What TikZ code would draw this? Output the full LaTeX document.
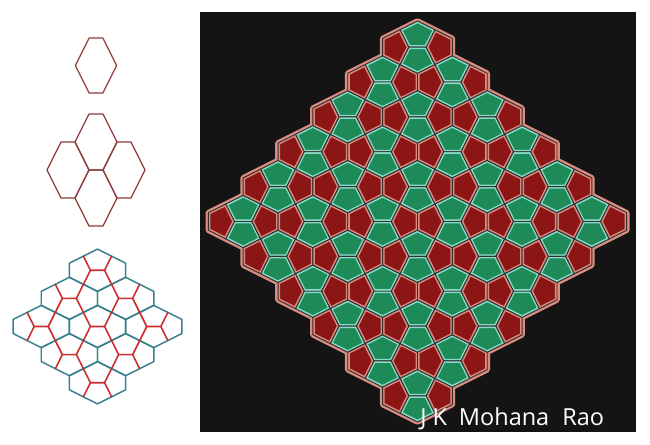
\documentclass[tikz,border=0pt]{standalone}
\usepackage{fontspec}
\setmainfont{Open Sans}
\definecolor{hexline}{HTML}{8E3B3B}
\definecolor{tealline}{HTML}{367F8C}
\definecolor{redline}{HTML}{CC2E2E}
\definecolor{bgdark}{HTML}{141414}
\definecolor{redfill}{HTML}{8C1515}
\definecolor{greenfill}{HTML}{1E8A58}
\definecolor{salmonedge}{HTML}{DB8C80}
\definecolor{cyanedge}{HTML}{8ADBC9}
\definecolor{gapline}{HTML}{303030}
\tikzset{
  hexA/.style={draw=hexline, line width=0.9pt, line join=round},
  tealA/.style={draw=tealline, line width=1.1pt, line join=round},
  redA/.style={draw=redline, line width=1.2pt, line cap=round, line join=round},
  outerband/.style={draw=salmonedge, line width=4.2pt, line join=round},
  gapstroke/.style={draw=gapline, line width=0.7pt, line join=round},
}
\newcommand\pentagon[7]{%
  \begin{scope}
    \clip #3--#4--#5--#6--#7--cycle;
    \fill[#1] #3--#4--#5--#6--#7--cycle;
    \draw[#2, line width=3pt] #3--#4--#5--#6--#7--cycle;
  \end{scope}
  \draw[gapstroke] #3--#4--#5--#6--#7--cycle;}
\begin{document}
\begin{tikzpicture}[x=0.75pt,y=-0.75pt]
\useasboundingbox (0,0) rectangle (650,445);
\fill[white] (0,0) rectangle (650,445);

% ---------- figure 1: one hexagon ----------
\begin{scope}[shift={(96,65.5)}, x=20.6pt, y=-20.6pt]
  \draw[hexA] (-.25,-1) -- (.25,-1) -- (.75,0) -- (.25,1) -- (-.25,1) -- (-.75,0) -- cycle;
\end{scope}

% ---------- figure 2: four hexagons ----------
\begin{scope}[shift={(96,170)}, x=21pt, y=-21pt]
  \foreach \cx/\cy in {0/-1,-1/0,1/0,0/1}{
    \draw[hexA] (\cx,\cy) ++(-.25,-1) -- ++(.5,0) -- ++(.5,1) -- ++(-.5,1) -- ++(-.5,0) -- ++(-.5,-1) -- cycle;
  }
\end{scope}

% ---------- figure 3: two overlaid hexagonal tilings ----------
\begin{scope}[shift={(97.5,326.5)}, x=21.1pt, y=-21.1pt]
  \foreach \p in {0,1,2}{\foreach \q in {0,1,2}{
    \draw[tealA] ({\p+\q-2},{\p-\q}) ++(0,-.75) -- ++(1,.5) -- ++(0,.5) -- ++(-1,.5) -- ++(-1,-.5) -- ++(0,-.5) -- cycle;
  }}
  \foreach \p in {0,1,2}{\foreach \q in {0,1,2}{
    \begin{scope}[shift={({\p+\q-2},{\p-\q})}]
      \draw[redA] (-.5,-.5) -- (-.25,0) -- (-.5,.5) (-.25,0) -- (.25,0) (.5,-.5) -- (.25,0) -- (.5,.5);
    \end{scope}
  }}
\end{scope}

% ---------- right: coloured Cairo tiling ----------
\fill[bgdark] (200,12) rectangle (636,432);
\begin{scope}[shift={(417.5,221.5)}, x=26.15pt, y=-26.15pt]
  \foreach \p in {0,...,5}{\foreach \q in {0,...,5}{
    \draw[outerband] ({\p+\q-5},{\p-\q}) ++(0,-.75) -- ++(1,.5) -- ++(0,.5) -- ++(-1,.5) -- ++(-1,-.5) -- ++(0,-.5) -- cycle;
  }}
  \foreach \p in {0,...,5}{\foreach \q in {0,...,5}{
    \begin{scope}[shift={({\p+\q-5},{\p-\q})}]
      \pentagon{greenfill}{cyanedge}{(-.5,-.5)}{(-.25,0)}{(.25,0)}{(.5,-.5)}{(0,-.75)}
      \pentagon{greenfill}{cyanedge}{(-.5,.5)}{(-.25,0)}{(.25,0)}{(.5,.5)}{(0,.75)}
      \pentagon{redfill}{salmonedge}{(-.5,-.5)}{(-.25,0)}{(-.5,.5)}{(-1,.25)}{(-1,-.25)}
      \pentagon{redfill}{salmonedge}{(.5,-.5)}{(.25,0)}{(.5,.5)}{(1,.25)}{(1,-.25)}
    \end{scope}
  }}
\end{scope}

\node[anchor=base west, text=white, inner sep=0pt, font=\fontsize{17.6}{20}\selectfont] (sig) at (420,426) {J K\hspace{0.25em} Mohana\hspace{0.3em} Rao};
\end{tikzpicture}
\end{document}
